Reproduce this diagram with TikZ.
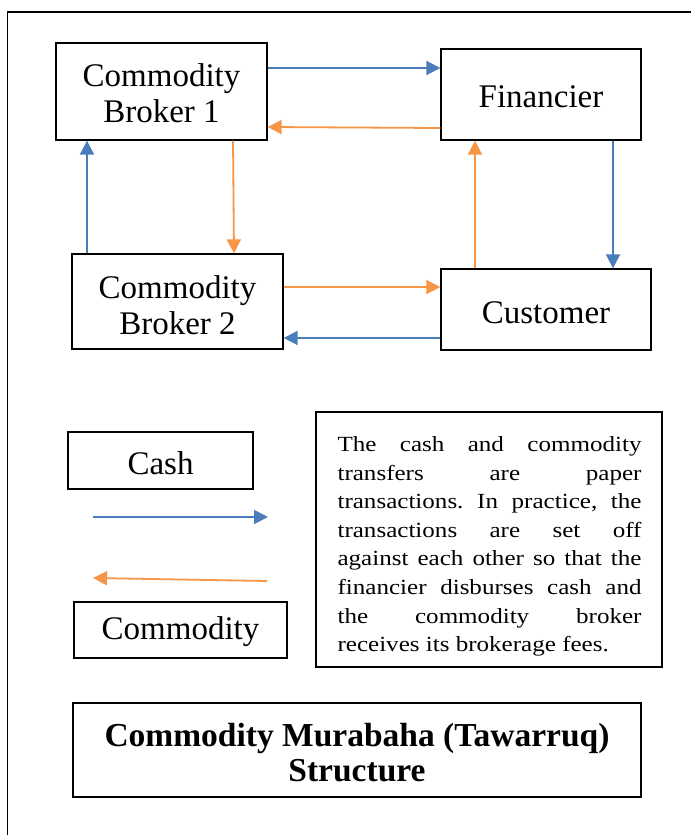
\documentclass[tikz,border=0pt]{standalone}
\usepackage{fontspec}
\setmainfont{Liberation Serif}
\newfontfamily\notefont[FakeStretch=1.16]{Liberation Serif}
\usetikzlibrary{arrows.meta}
\definecolor{cashblue}{RGB}{74,126,187}
\definecolor{commorange}{RGB}{247,150,70}
\newcommand\txtstrut[1]{\rule{0pt}{#1}}
\tikzset{
  box/.style={draw=black, line width=1.3pt, fill=white, align=center, inner sep=0pt,
    font=\fontsize{33}{36}\selectfont},
  cash/.style={draw=cashblue, line width=1.8pt, -{Triangle[length=14pt,width=14pt]}},
  comm/.style={draw=commorange, line width=1.8pt, -{Triangle[length=14pt,width=14pt]}},
}
\begin{document}
\begin{tikzpicture}[x=1pt,y=-1pt]
\useasboundingbox (0,0) rectangle (691,835);
\fill[white] (0,0) rectangle (691,835);
% outer frame (clipped by page)
\draw[line width=1.3pt] (691,12) -- (7.5,12) -- (7.5,835);

% main boxes
\node[box, minimum width=211pt, minimum height=97pt] (cb1) at (161.5,91.5) {\txtstrut{25.5pt}Commodity\\Broker 1};
\node[box, minimum width=200pt, minimum height=91pt] (fin) at (541,94.5) {\txtstrut{25.5pt}Financier};
\node[box, minimum width=211pt, minimum height=95pt] (cb2) at (177.5,301.5) {\txtstrut{29.5pt}Commodity\\Broker 2};
\node[box, minimum width=210pt, minimum height=81pt] (cust) at (546,309.5) {\txtstrut{27.5pt}Customer};

% connectors
\draw[cash] (cb1.east |- 0,68) -- (fin.west |- 0,68);
\draw[comm] (fin.west |- 0,128) -- (cb1.east |- 0,127);
\draw[comm] (cb1.south -| 233,0) -- (cb2.north -| 234,0);
\draw[cash] (cb2.north -| 87,0) -- (cb1.south -| 87,0);
\draw[cash] (fin.south -| 613,0) -- (cust.north -| 613,0);
\draw[comm] (cust.north -| 475,0) -- (fin.south -| 475,0);
\draw[comm] (cb2.east |- 0,287) -- (cust.west |- 0,287);
\draw[cash] (cust.west |- 0,338) -- (cb2.east |- 0,338);

% legend
\node[box, minimum width=185pt, minimum height=57pt] (cashlbl) at (160.5,460.5) {\txtstrut{27.5pt}Cash};
\node[box, minimum width=213pt, minimum height=56pt] (commlbl) at (180.5,630) {\txtstrut{26.5pt}Commodity};
\coordinate (cashA) at (93,517);
\coordinate (cashB) at (268,517);
\coordinate (commA) at (267,581);
\coordinate (commB) at (93,578);
\draw[cash] (cashA) -- (cashB);
\draw[comm] (commA) -- (commB);

% note
\node[draw=black, line width=1.3pt, minimum width=346pt, minimum height=255pt, inner sep=0pt] (note) at (489,539.5) {};
\node[anchor=north west, inner sep=0pt, text width=304pt, align=justify,
  font=\notefont\fontsize{21.6}{28.6}\selectfont]
  (notetext) at ([xshift=22pt,yshift=-25pt]note.north west)
  {\tolerance=10000\relax\hyphenpenalty=10000\relax\frenchspacing
   The cash and commodity\linebreak transfers are paper\linebreak transactions. In practice, the\linebreak transactions are set off\linebreak against each other so that the\linebreak financier disburses cash and\linebreak the commodity broker\linebreak receives its brokerage fees.};

% title
\node[box, minimum width=568pt, minimum height=94pt, font=\bfseries\fontsize{33.5}{35}\selectfont] (title) at (357,750)
  {\txtstrut{29pt}Commodity Murabaha (Tawarruq)\\Structure};
\end{tikzpicture}
\end{document}
